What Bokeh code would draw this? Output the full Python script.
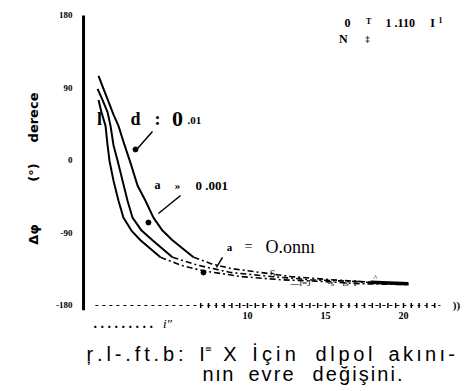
import numpy as np
from bokeh.plotting import figure
from bokeh.models import Label
from bokeh.embed import file_html
from bokeh.resources import INLINE

# Phase of the dipole current (degrees) against distance, three curves
a_x = [0.45, 0.77, 1.09, 1.41, 1.73, 2.12, 2.5, 2.95, 3.46, 3.97, 4.55, 5.19, 6.54,
       7.63, 8.91, 10.83, 12.76, 15.32, 17.88, 20.32]
a_y = [105, 89, 73, 57, 43, 19, -3, -31, -50, -71, -87, -99, -120,
       -128, -134, -139, -144, -148, -151, -153]
b_x = [0.39, 0.71, 1.03, 1.22, 1.41, 1.67, 1.99, 2.31, 2.63, 3.21, 3.91, 5.19,
       6.80, 8.91, 11.47, 14.04, 16.60, 19.17, 20.32]
b_y = [89, 75, 60, 43, 19, 0, -25, -50, -71, -87, -99, -120,
       -130, -139, -144, -148, -150, -153, -154]
c_x = [0.45, 0.64, 0.90, 1.03, 1.15, 1.41, 1.73, 2.05, 2.56, 3.14, 4.42,
       5.71, 7.18, 9.55, 12.12, 14.68, 17.24, 20.32]
c_y = [75, 60, 43, 19, 0, -25, -50, -71, -87, -99, -120,
       -130, -137, -144, -148, -150, -153, -154]
# index where each curve turns from solid to dash-dot
a_cut, b_cut, c_cut = 12, 11, 10

y_ticks = [-180, -90, 0, 90, 180]
y_tick_labels = ["-180", "-90", "0", "90", "180"]
x_ticks = [10, 15, 20]
x_tick_labels = ["10", "15", "20"]
x_minor = np.arange(7.0, 22.01, 0.5)

# marked points and their leader lines
dot_x = [2.82, 3.65, 7.18]
dot_y = [13.7, -77.0, -139.0]
lead_x0 = [3.91, 5.71, 8.40]
lead_y0 = [36.0, -43.5, -120.4]
lead_x1 = [2.95, 4.29, 8.01]
lead_y1 = [14.9, -65.8, -132.8]

# caption words: (text, left, right) in x units, two lines
caption_1 = [("ŗ.l-.ft.b:", -0.32, 5.9), ("I⁼", 6.9, 7.8), ("X", 8.45, 9.15),
             ("İçin", 10.3, 13.1), ("dlpol", 14.36, 18.01), ("akını-", 19.04, 23.3)]
caption_2 = [("nın", 7.12, 9.10), ("evre", 10.06, 12.95), ("değişini.", 14.17, 19.94)]
CAP_Y1, CAP_Y2 = -233.4, -258.2
CAP_SIZE = 20
PX_PER_X = 15.6           # horizontal scale, pixels per x unit

# advance widths (em) of the sans face, used to spread the caption letters
ADV = {"ŗ": .333, ".": .278, "l": .222, "-": .333, "f": .278, "t": .278, "b": .556,
       ":": .278, "I": .278, "⁼": .40, "X": .667, "İ": .278, "ç": .5, "i": .222,
       "n": .556, "d": .556, "p": .556, "o": .556, "a": .556, "k": .5, "ı": .278,
       "e": .556, "v": .5, "r": .333, "ğ": .556, "ş": .5}

# axis geometry in data units
Y_AX_X = -0.51            # position of the vertical axis line
Y_AX_BOTTOM = -186.0
X_AX_Y = -180.0           # the dashed horizontal axis
X_AX_START, X_AX_END = 0.25, 22.37

# the frame covers the whole canvas so that the axis texts and the
# caption can be placed freely around the plotting area
p = figure(width=469, height=391, output_backend="svg", toolbar_location=None,
           x_range=(-5.833, 24.231), y_range=(-286.77, 198.62),
           min_border=0)
p.xaxis.visible = False
p.yaxis.visible = False
p.outline_line_color = None
p.grid.visible = False
p.background_fill_color = "white"
p.border_fill_color = "white"

# vertical axis
p.segment([Y_AX_X], [Y_AX_BOTTOM], [Y_AX_X], [180], line_color="black", line_width=3)
# horizontal axis: dashed line with small cross ticks
p.line([X_AX_START, X_AX_END], [X_AX_Y, X_AX_Y], line_color="black",
       line_width=1, line_dash="3 4")
p.segment(x_minor, X_AX_Y - 3, x_minor, X_AX_Y + 3, line_color="black", line_width=1.5)

# curves: solid part, then dash-dot tail
for xs, ys, cut in ((a_x, a_y, a_cut), (b_x, b_y, b_cut), (c_x, c_y, c_cut)):
    p.line(xs[:cut + 1], ys[:cut + 1], line_color="black", line_width=2)
    p.line(xs[cut:], ys[cut:], line_color="black", line_width=1.6,
           line_dash="6 3 2 3")
p.line(a_x[-2:], a_y[-2:], line_color="black", line_width=3.5)

p.scatter(dot_x, dot_y, size=5, color="black")
p.segment(lead_x0, lead_y0, lead_x1, lead_y1, line_color="black", line_width=1.5)


def lab(x, y, text, size, font="Liberation Serif", style="bold", align="center",
        baseline="middle", angle=0.0):
    p.add_layout(Label(x=x, y=y, text=text, text_font=font,
                       text_font_size=f"{size}px", text_font_style=style,
                       text_align=align, text_baseline=baseline, angle=angle,
                       text_color="black"))


def spaced_word(word, left, right, y, size):
    """Set a word letter by letter, with even tracking so it spans left..right."""
    widths = [ADV.get(ch, 0.5) * size / PX_PER_X for ch in word]
    extra = 0.0
    if len(word) > 1:
        extra = max(0.0, ((right - left) - sum(widths)) / (len(word) - 1))
    x = left
    for ch, w in zip(word, widths):
        lab(x, y, ch, size, font="Liberation Sans", style="normal",
            align="left", baseline="alphabetic")
        x += w + extra


# axis tick labels
for t, s in zip(y_ticks, y_tick_labels):
    lab(-1.22, t, s, 9, align="right")
for t, s in zip(x_ticks, x_tick_labels):
    lab(t, -192.4, s, 10)

# curve labels
lab(0.51, 52.1, "l", 18)
lab(2.82, 52.1, "d", 18)
lab(4.23, 52.1, ":", 18)
lab(5.51, 52.1, "0", 22)
lab(6.15, 49.6, ".01", 11, align="left")
lab(4.23, -31.0, "a", 12)
lab(5.51, -31.0, "»", 11)
lab(6.67, -31.0, "0 .001", 13, align="left")
lab(8.85, -106.8, "a", 11)
lab(10.06, -106.8, "=", 14, style="normal")
lab(11.15, -106.8, "O.onnı", 18, style="normal", align="left")

# small text along the tails
lab(11.6, -140.3, "S", 10, style="normal")
lab(12.76, -151.5, "—l=J", 9, style="normal", align="left")
lab(15.13, -151.5, "-s", 9, style="normal", align="left")
lab(16.09, -151.5, "is", 9, style="normal", align="left")
lab(16.79, -151.5, "I*", 9, style="normal", align="left")
lab(18.2, -146.5, "^", 8, style="normal")

# top-right note
lab(16.41, 171.3, "0", 12)
lab(17.76, 172.5, "T", 8)
lab(18.85, 171.3, "1 .110", 12, align="left")
lab(21.86, 171.3, "I", 12)
lab(22.37, 174.5, "1", 8)
lab(16.15, 151.4, "N", 12)
lab(17.69, 151.4, "‡", 9)

# axis end mark and the row under the axis
lab(23.4, -180, "))", 11)
lab(0.13, -202.3, ". . . . . . . . .", 14, align="left")
lab(4.87, -202.3, "i″", 13, style="italic")

# rotated y title
lab(-3.72, 53.4, "derece", 13, font="DejaVu Sans", angle=np.pi / 2)
lab(-3.72, -14.9, "(°)", 13, font="DejaVu Sans", angle=np.pi / 2)
lab(-3.72, -91.9, "Δφ", 13, font="DejaVu Sans", angle=np.pi / 2)

# caption
for w, l, r in caption_1:
    spaced_word(w, l, r, CAP_Y1 - 7, CAP_SIZE)
for w, l, r in caption_2:
    spaced_word(w, l, r, CAP_Y2 - 7, CAP_SIZE)

open("out.html", "w").write(file_html(p, INLINE))
